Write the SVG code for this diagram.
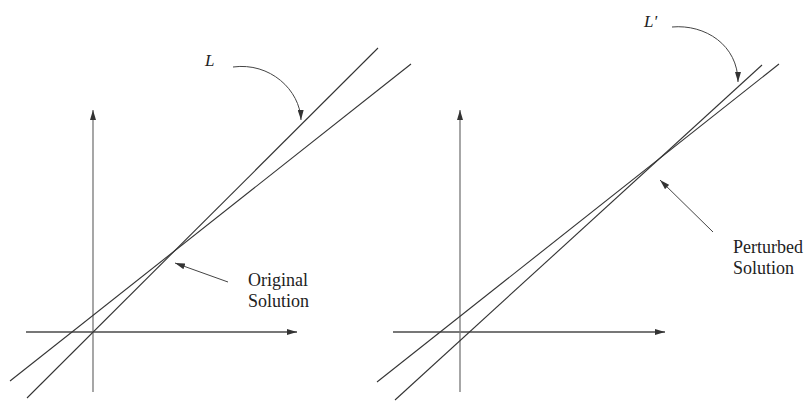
<svg xmlns="http://www.w3.org/2000/svg" width="805" height="401" viewBox="0 0 805 401">
<style>
.axis{stroke:#777;stroke-width:1.3;fill:none}
.haxis{stroke:#777;stroke-width:2;fill:none}
.ln{stroke:#333;stroke-width:1.1;fill:none}
.ptr{stroke:#444;stroke-width:1;fill:none}
.lbl{font-family:"Liberation Serif","Times New Roman",serif;font-size:18px;fill:#222}
.it{font-family:"Liberation Serif","Times New Roman",serif;font-size:17px;font-style:italic;fill:#222}
</style>
<defs>
<marker id="ah" viewBox="0 0 10 6" refX="10" refY="3" markerWidth="10" markerHeight="6" markerUnits="userSpaceOnUse" orient="auto">
<path d="M0,0 L10,3 L0,6 z" fill="#333"/>
</marker>
</defs>
<rect width="805" height="401" fill="#fff"/>
<g id="left-panel">
<line class="axis" x1="93" y1="392" x2="93" y2="110" marker-end="url(#ah)"/>
<line class="haxis" x1="26" y1="332" x2="297" y2="332" marker-end="url(#ah)"/>
<line class="ln" x1="27" y1="398" x2="378" y2="48"/>
<line class="ln" x1="10" y1="381" x2="411" y2="64"/>
</g>
<g id="right-panel">
<line class="axis" x1="460" y1="392" x2="460" y2="110" marker-end="url(#ah)"/>
<line class="haxis" x1="393" y1="332" x2="665" y2="332" marker-end="url(#ah)"/>
<line class="ln" x1="377" y1="382" x2="779" y2="64"/>
<line class="ln" x1="395" y1="400" x2="762" y2="65"/>
</g>
<g id="connectors">
<path class="ptr" d="M233,67 C270,62 300,90 301,120" marker-end="url(#ah)"/>
<line class="ptr" x1="228" y1="282" x2="175" y2="263" marker-end="url(#ah)"/>
<path class="ptr" d="M672,27 C705,24 738,45 738,82" marker-end="url(#ah)"/>
<line class="ptr" x1="713" y1="232" x2="660" y2="180" marker-end="url(#ah)"/>
</g>
<g id="label-L"><text class="it" x="205" y="66">L</text></g>
<g id="label-Lp"><text class="it" x="644" y="27">L'</text></g>
<g id="label-original">
<text class="lbl" x="248" y="286">Original</text>
<text class="lbl" x="248" y="307">Solution</text>
</g>
<g id="label-perturbed">
<text class="lbl" x="733" y="253">Perturbed</text>
<text class="lbl" x="733" y="274">Solution</text>
</g>
</svg>
